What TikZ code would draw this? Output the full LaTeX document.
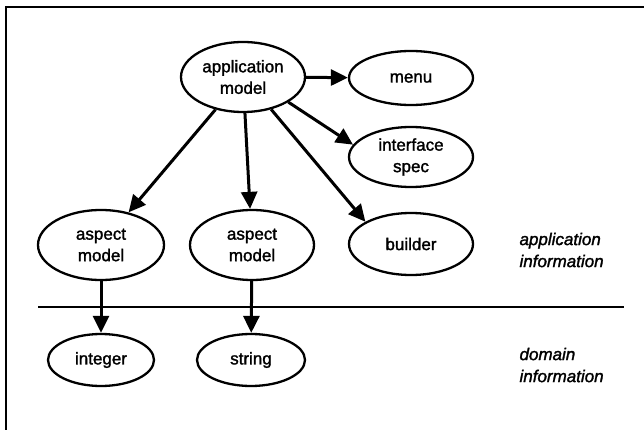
\documentclass[tikz,border=0pt]{standalone}
\usepackage{fontspec}
\setmainfont[FakeBold=1.6]{Liberation Sans}
\usetikzlibrary{shapes.geometric,arrows.meta}
\begin{document}
\begin{tikzpicture}[x=1pt,y=-1pt,
  oval/.style={ellipse,draw,line width=2.3pt,inner sep=0pt,align=center,
    font=\fontsize{17}{21.5}\selectfont},
  link/.style={line width=3pt,-{Triangle[length=17pt,width=16pt]}},
  side/.style={align=left,anchor=west,font=\fontsize{17}{22}\selectfont\itshape}]
\useasboundingbox (0,0) rectangle (644,430);
\draw[line width=2.6pt] (6,432) -- (6,7) -- (646,7);
\node[oval,minimum width=124pt,minimum height=70pt] (app) at (243,77) {application\\model};
\node[oval,minimum width=124pt,minimum height=54pt] (menu) at (411,78) {menu};
\node[oval,minimum width=124pt,minimum height=60pt] (spec) at (411,157) {interface\\spec};
\node[oval,minimum width=126pt,minimum height=70pt] (am1) at (101,245) {aspect\\model};
\node[oval,minimum width=124pt,minimum height=70pt] (am2) at (252,245) {aspect\\model};
\node[oval,minimum width=124pt,minimum height=62pt] (builder) at (411,244) {builder};
\node[oval,minimum width=106pt,minimum height=52pt] (int) at (101,360) {integer};
\node[oval,minimum width=108pt,minimum height=52pt] (str) at (251,360) {string};
\coordinate (lineL) at (38,307);
\coordinate (lineR) at (624,307);
\draw[line width=2.6pt] (lineL) -- (lineR);
\node[side] (appinfo) at (516,250) {application\\information};
\node[side] (dominfo) at (516,365) {domain\\information};
\draw[link] (app) -- (menu);
\draw[link] (app.-29) -- (spec.168);
\draw[link] (app) -- (am1);
\draw[link] (app) -- (am2);
\draw[link] (app.-49) -- (builder.154);
\draw[link] (am1) -- (int);
\draw[link] (am2) -- (str);
\end{tikzpicture}
\end{document}
